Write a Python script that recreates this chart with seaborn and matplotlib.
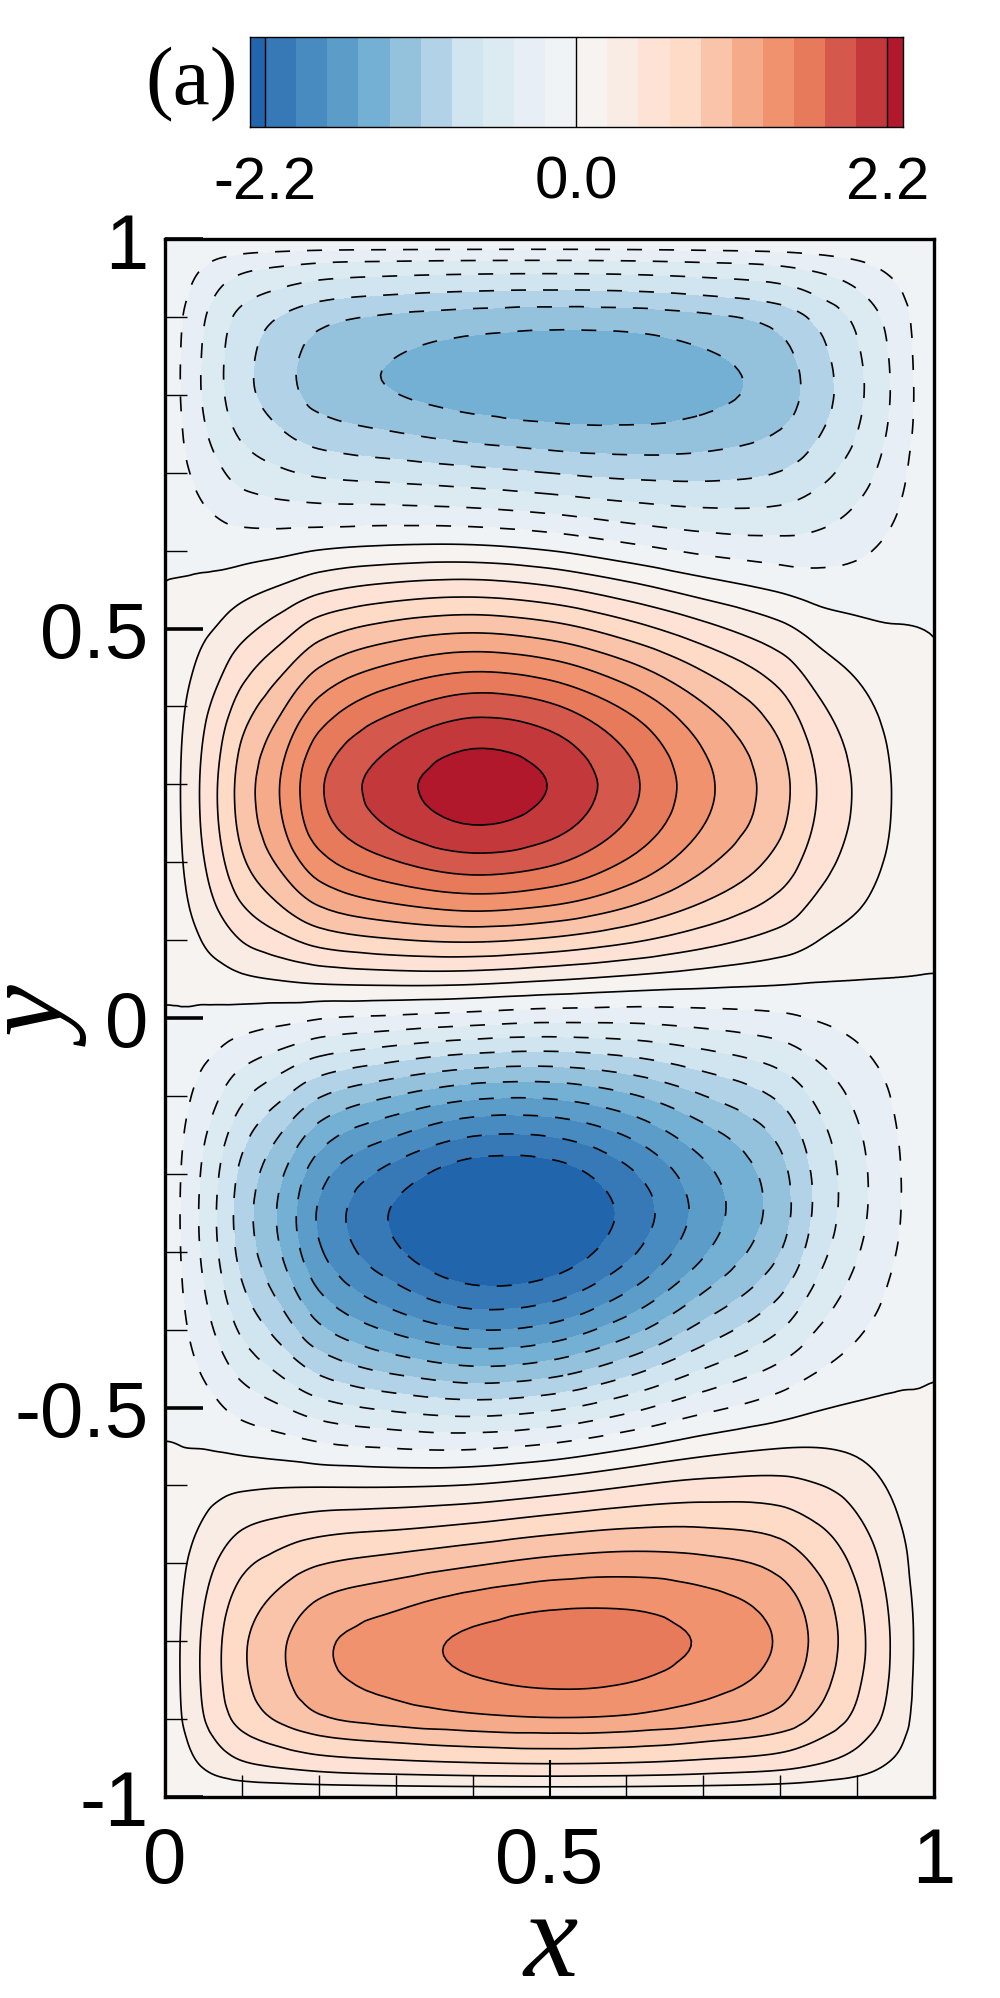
import numpy as np
import matplotlib
matplotlib.use("Agg")
import matplotlib.pyplot as plt
import matplotlib.tri as mtri
from matplotlib.colors import BoundaryNorm, ListedColormap
import seaborn as sns

sns.set_theme(style="ticks", rc={"text.color": "black", "xtick.color": "black", "ytick.color": "black",
                                 "axes.axisbelow": False})
plt.rcParams["font.family"] = ["Liberation Sans", "DejaVu Sans"]

# sample positions of the field
x_samples = [0, .02, .045, .07, .1, .15, .2, .3, .4, .5, .6, .7, .8, .85, .9, .95, 1]
y_samples = [1, .985, .97, .95, .925, .9,
             .85, .8, .75, .7, .65, .6, .55, .5, .45, .4, .35, .3, .25, .2, .15, .1, .05,
             0, -.05, -.1, -.15, -.2, -.25, -.3, -.35, -.4, -.45, -.5, -.55,
             -.6, -.65, -.7, -.75, -.8, -.85, -.9, -.925, -.95, -.97, -.985, -1]

# field values, one list per x sample, running from y = 1 down to y = -1
field_x000 = [-.02, -.02, -.02, -.02, -.02, -.02,
              -.02, -.02, -.02, -.02, -.02, -.03, .01, .02, .02, .02, .02, .02, .02, .02, .02, .02, .03,
              -.015, -.02, -.02, -.02, -.02, -.02, -.02, -.02, -.02, -.02, -.03, .005,
              .02, .02, .02, .02, .02, .02, .02, .02, .02, .02, .02, .02]
field_x002 = [-.02, -.03, -.06, -.10, -.15, -.18,
              -.22, -.22, -.19, -.15, -.10, -.06, .02, .08, .13, .17, .19, .20, .20, .18, .15, .10, .06,
              -.02, -.09, -.13, -.17, -.20, -.21, -.20, -.18, -.15, -.10, -.05, .01,
              .05, .10, .16, .20, .22, .22, .19, .16, .11, .07, .04, .02]
field_x0045 = [-.02, -.08, -.18, -.27, -.34, -.39,
               -.46, -.47, -.41, -.31, -.18, -.09, .06, .17, .26, .38, .44, .47, .45, .40, .33, .22, .10,
               -.05, -.18, -.28, -.40, -.46, -.48, -.46, -.40, -.33, -.24, -.12, 0,
               .11, .23, .34, .42, .46, .48, .43, .34, .27, .19, .10, .02]
field_x007 = [-.02, -.14, -.27, -.39, -.50, -.57,
              -.64, -.65, -.55, -.40, -.26, -.09, .07, .24, .37, .50, .62, .67, .67, .60, .49, .32, .12,
              -.07, -.25, -.42, -.58, -.66, -.68, -.67, -.58, -.48, -.35, -.19, -.02,
              .17, .32, .46, .58, .65, .65, .57, .49, .37, .24, .12, .02]
field_x010 = [-.02, -.18, -.33, -.49, -.63, -.71,
              -.80, -.80, -.73, -.54, -.32, -.10, .13, .32, .52, .73, .90, .96, .93, .82, .66, .47, .18,
              -.10, -.36, -.61, -.78, -.91, -.96, -.94, -.83, -.67, -.50, -.29, -.06,
              .19, .44, .63, .77, .86, .85, .72, .61, .47, .32, .17, .02]
field_x015 = [-.02, -.22, -.40, -.57, -.75, -.91,
              -1.10, -1.12, -.90, -.68, -.37, -.05, .24, .55, .83, 1.1, 1.30, 1.37, 1.34, 1.22, .95, .61, .26,
              -.14, -.51, -.88, -1.16, -1.36, -1.40, -1.36, -1.19, -1.0, -.72, -.42, -.11,
              .22, .52, .78, 1.0, 1.14, 1.16, .92, .76, .57, .38, .18, .02]
field_x020 = [-.02, -.24, -.42, -.65, -.86, -1.02,
              -1.27, -1.28, -.99, -.72, -.38, -.03, .38, .84, 1.07, 1.33, 1.62, 1.76, 1.70, 1.47, 1.2, .78, .28,
              -.26, -.66, -1.12, -1.4, -1.68, -1.80, -1.72, -1.49, -1.28, -.93, -.56, -.17,
              .22, .58, .9, 1.16, 1.34, 1.34, 1.07, .86, .6, .38, .19, .02]
field_x030 = [-.02, -.24, -.47, -.69, -.95, -1.13,
              -1.47, -1.47, -1.10, -.78, -.40, .08, .60, 1.03, 1.49, 1.84, 2.08, 2.32, 2.22, 1.86, 1.40, .96, .35,
              -.28, -.85, -1.4, -1.82, -2.20, -2.46, -2.34, -2.05, -1.70, -1.21, -.76, -.25,
              .22, .61, .98, 1.32, 1.54, 1.56, 1.17, .95, .70, .47, .23, .02]
field_x040 = [-.02, -.25, -.46, -.72, -.98, -1.16,
              -1.53, -1.58, -1.22, -.84, -.40, .10, .63, 1.13, 1.62, 2.05, 2.40, 2.76, 2.44, 2.04, 1.60, .98, .37,
              -.31, -1.0, -1.6, -2.12, -2.54, -2.84, -2.66, -2.34, -1.92, -1.42, -.84, -.29,
              .22, .65, 1.09, 1.48, 1.76, 1.66, 1.22, 1.0, .72, .47, .24, .02]
field_x050 = [-.02, -.25, -.47, -.73, -.99, -1.19,
              -1.58, -1.64, -1.28, -.91, -.45, .02, .54, 1.05, 1.5, 1.95, 2.18, 2.40, 2.24, 1.96, 1.50, .87, .23,
              -.40, -1.04, -1.62, -2.10, -2.52, -2.76, -2.56, -2.26, -1.82, -1.32, -.77, -.21,
              .33, .82, 1.21, 1.58, 1.82, 1.76, 1.28, 1.05, .77, .49, .25, .02]
field_x060 = [-.02, -.25, -.46, -.73, -1.0, -1.2,
              -1.56, -1.60, -1.33, -.99, -.59, -.14, .31, .78, 1.15, 1.62, 1.84, 1.94, 1.84, 1.58, 1.26, .77, .17,
              -.41, -.96, -1.42, -1.83, -2.18, -2.32, -2.16, -1.86, -1.50, -1.0, -.56, -.03,
              .48, .86, 1.26, 1.62, 1.82, 1.74, 1.25, 1.03, .74, .47, .25, .02]
field_x070 = [-.02, -.24, -.44, -.66, -.94, -1.14,
              -1.52, -1.57, -1.30, -.99, -.7, -.32, .11, .55, .96, 1.15, 1.34, 1.44, 1.40, 1.2, .95, .58, .09,
              -.36, -.75, -1.14, -1.46, -1.66, -1.72, -1.64, -1.34, -1.04, -.64, -.28, .17,
              .55, .93, 1.23, 1.52, 1.66, 1.56, 1.16, .92, .69, .44, .24, .02]
field_x080 = [-.02, -.2, -.37, -.61, -.83, -.99,
              -1.26, -1.31, -1.1, -.92, -.66, -.36, -.07, .21, .49, .66, .85, .92, .88, .73, .57, .33, .03,
              -.26, -.55, -.85, -1.02, -1.16, -1.20, -1.10, -.85, -.57, -.33, -.04, .24,
              .57, .81, 1.05, 1.26, 1.36, 1.27, 1.04, .83, .6, .38, .18, .02]
field_x085 = [-.02, -.17, -.33, -.5, -.7, -.83,
              -1.01, -1.03, -.95, -.77, -.56, -.35, -.11, .12, .3, .47, .59, .65, .63, .53, .38, .22, .03,
              -.2, -.42, -.64, -.75, -.81, -.82, -.73, -.58, -.45, -.24, -.03, .19,
              .49, .7, .87, 1.02, 1.09, 1.03, .8, .7, .53, .32, .15, .02]
field_x090 = [-.02, -.12, -.25, -.39, -.52, -.63,
              -.75, -.79, -.71, -.57, -.44, -.28, -.12, .05, .18, .30, .39, .43, .42, .36, .27, .13, 0,
              -.13, -.28, -.40, -.47, -.52, -.53, -.46, -.34, -.24, -.12, .05, .21,
              .36, .51, .67, .75, .78, .76, .60, .52, .40, .26, .13, .02]
field_x095 = [-.02, -.05, -.12, -.22, -.3, -.36,
              -.42, -.44, -.42, -.34, -.24, -.17, -.09, 0, .07, .12, .16, .19, .18, .15, .11, .06, -.01,
              -.07, -.12, -.18, -.23, -.25, -.25, -.22, -.16, -.1, -.03, .04, .1,
              .17, .24, .31, .38, .42, .43, .37, .3, .23, .14, .06, .02]
field_x100 = [-.02, -.02, -.02, -.02, -.02, -.02,
              -.02, -.02, -.02, -.02, -.02, -.02, -.02, -.005, .02, .02, .02, .02, .02, .02, .02, .02, -.005,
              -.02, -.02, -.02, -.02, -.02, -.02, -.02, -.02, -.02, -.02, .04, .02,
              .02, .02, .02, .02, .02, .02, .02, .02, .02, .02, .02, .02]
field_columns = [field_x000, field_x002, field_x0045, field_x007, field_x010, field_x015,
                 field_x020, field_x030, field_x040, field_x050, field_x060, field_x070,
                 field_x080, field_x085, field_x090, field_x095, field_x100]

contour_levels = [-2.2, -1.98, -1.76, -1.54, -1.32, -1.1, -.88, -.66, -.44, -.22, 0,
                  .22, .44, .66, .88, 1.1, 1.32, 1.54, 1.76, 1.98, 2.2]
negative_levels = contour_levels[:10]
positive_levels = contour_levels[10:]
band_colors = ["#2166ac", "#3679b6", "#488bc0", "#5c9cc8", "#74b0d4", "#94c2dd", "#b2d3e7",
               "#d1e5f0", "#dceaf2", "#e7eef5", "#f0f3f6",
               "#f7f3f0", "#f9ece4", "#fde2d5", "#fedbc7", "#f9c4aa", "#f5aa89", "#f1926e",
               "#e67a5a", "#d4584b", "#c3393b", "#b2182b"]
colorbar_labels = ["-2.2", "0.0", "2.2"]
x_major = [0, .5, 1]
x_major_labels = ["0", "0.5", "1"]
y_major = [-1, -.5, 0, .5, 1]
y_major_labels = ["-1", "-0.5", "0", "0.5", "1"]
x_minor = [.1, .2, .3, .4, .6, .7, .8, .9]
y_minor = [-.9, -.8, -.7, -.6, -.4, -.3, -.2, -.1, .1, .2, .3, .4, .6, .7, .8, .9]

W, H = 1000, 1999
fig = plt.figure(figsize=(W / 100, H / 100), dpi=100, facecolor="white")


def px_axes(left, right, top, bottom):
    return fig.add_axes([left / W, 1 - bottom / H, (right - left) / W, (bottom - top) / H])


def soften(values, weight=.14, passes=3):
    # light diffusion of the interior nodes; the wall values stay as they are
    v = np.array(values, dtype=float)
    for _ in range(passes):
        c = v[1:-1, 1:-1]
        v[1:-1, 1:-1] = c + weight * (v[:-2, 1:-1] + v[2:, 1:-1] + v[1:-1, :-2] + v[1:-1, 2:] - 4 * c)
    return v


palette = sns.color_palette(band_colors, n_colors=len(band_colors))
cmap = ListedColormap(palette)
norm = BoundaryNorm(contour_levels, ncolors=len(band_colors), extend="both")

# main panel: filled bands and iso-lines on a refined triangulation
ax = px_axes(165, 934, 240, 1798)
gx, gy = np.meshgrid(x_samples, y_samples)
field = soften(np.array(field_columns).T)
tri = mtri.Triangulation(gx.ravel(), gy.ravel())
smooth = mtri.CubicTriInterpolator(tri, field.ravel(), kind="geom")
fine_tri, fine_z = mtri.UniformTriRefiner(tri).refine_field(field.ravel(), triinterpolator=smooth, subdiv=3)
ax.tricontourf(fine_tri, fine_z, levels=contour_levels, cmap=cmap, norm=norm, extend="both", antialiased=False)
ax.tricontour(fine_tri, fine_z, levels=negative_levels, colors="black", linewidths=1.2,
              linestyles=[(0, (9, 10.2))])
ax.tricontour(fine_tri, fine_z, levels=positive_levels, colors="black", linewidths=1.2, linestyles="solid")
ax.set_xlim(0, 1)
ax.set_ylim(-1, 1)
ax.set_xticks(x_major, x_major_labels)
ax.set_yticks(y_major, y_major_labels)
ax.set_xticks(x_minor, minor=True)
ax.set_yticks(y_minor, minor=True)
ax.tick_params(axis="x", which="major", direction="in", length=27, width=1.5, labelsize=56, pad=20)
ax.tick_params(axis="y", which="major", direction="in", length=27, width=2.6, labelsize=56, pad=12)
ax.tick_params(axis="both", which="minor", direction="in", length=16, width=1.0)
for spine in ax.spines.values():
    spine.set_visible(True)
    spine.set_linewidth(2.4)
    spine.set_color("black")

# colour key built from half-band cells, so the outer bands come out half as wide
cax = px_axes(249.5, 903, 38, 128)
half_step = .11
cell_values = [[(i + .5) * half_step for i in range(-21, 21)]]
sns.heatmap(cell_values, ax=cax, cmap=cmap, norm=norm, cbar=False, xticklabels=False, yticklabels=False)
for pos in [1, 21, 41]:
    cax.axvline(pos, color="black", lw=1.0)
cax.set_xticks([1, 21, 41], colorbar_labels)
cax.set_yticks([])
cax.tick_params(axis="x", length=0, labelsize=43, pad=20, rotation=0)
for spine in cax.spines.values():
    spine.set_visible(True)
    spine.set_linewidth(1.0)
    spine.set_color("black")

serif = ["Liberation Serif", "DejaVu Serif"]
fig.text(192 / W, 1 - 85 / H, "(a)", family=serif, fontsize=60, ha="center", va="center")
fig.text(551 / W, 1 - 1946 / H, "x", family=serif, style="italic", fontsize=88, ha="center", va="center")
fig.text(44 / W, 1 - 1020 / H, "y", family=serif, style="italic", fontsize=84, rotation=90, ha="center", va="center")

fig.savefig("out.png", dpi=100, facecolor="white")
